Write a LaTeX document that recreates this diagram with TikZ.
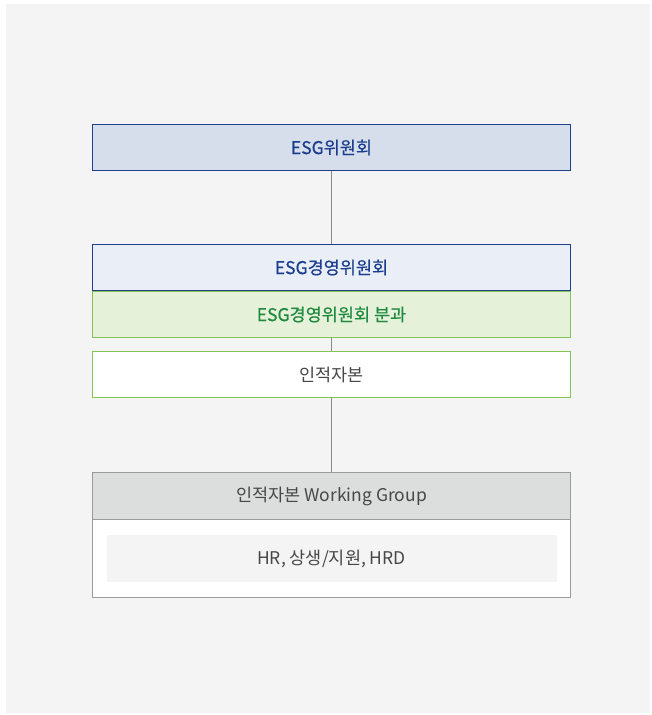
\documentclass[tikz,border=0pt]{standalone}
\usepackage{fontspec}
\setmainfont{Noto Sans CJK KR}
\newfontfamily\medfont[FakeBold=0.5]{Noto Sans CJK KR}
\definecolor{bgc}{HTML}{F4F4F4}
\definecolor{navyb}{HTML}{1F3F8F}
\definecolor{navyt}{HTML}{1A3D8E}
\definecolor{fill1}{HTML}{D7DEEB}
\definecolor{fill2}{HTML}{E9EEF7}
\definecolor{greenb}{HTML}{84C453}
\definecolor{fill3}{HTML}{E6F1DA}
\definecolor{greent}{HTML}{1E8A3E}
\definecolor{grayt}{HTML}{474747}
\definecolor{grayb}{HTML}{9A9A9A}
\definecolor{fillg}{HTML}{DCDDDD}
\definecolor{linec}{HTML}{8A8A8A}
\begin{document}
\begin{tikzpicture}[x=1pt,y=-1pt,
  box/.style={minimum width=478pt,minimum height=46pt,inner sep=0pt,font=\fontsize{17.5}{19}\selectfont},
  bluebox/.style={box,draw=navyb,line width=1pt,text=navyt,font=\fontsize{17.5}{19}\selectfont\medfont},
  greenbox/.style={box,draw=greenb,line width=1pt},
  graybox/.style={box,draw=grayb,line width=1pt,text=grayt},
  conn/.style={draw=linec,line width=0.8pt}]
\useasboundingbox (0,0) rectangle (651,715);
\fill[bgc] (6,4) rectangle (650,713);
\node[bluebox,fill=fill1,anchor=north west] (esg) at (92,124) {ESG위원회};
\node[bluebox,fill=fill2,anchor=north west] (mgmt) at (92,244) {ESG경영위원회};
\node[greenbox,fill=fill3,text=greent,anchor=north west,font=\fontsize{17.5}{19}\selectfont\medfont] (sub) at (92,291) {ESG경영위원회 분과};
\node[greenbox,fill=white,text=grayt,anchor=north west] (hc) at (92,351) {인적자본};
\node[graybox,fill=fillg,anchor=north west,minimum height=47pt] (wg) at (92,472) {인적자본 Working Group};
\node[graybox,fill=white,anchor=north west,minimum height=78pt] (body) at (92,519) {};
\node[box,fill=bgc,text=grayt,minimum width=450pt,minimum height=47pt] (inner) at (body.center) {HR, 상생/지원, HRD};
\draw[conn] (esg.south) -- (mgmt.north);
\draw[conn] (sub.south) -- (hc.north);
\draw[conn] (hc.south) -- (wg.north);
\end{tikzpicture}
\end{document}
